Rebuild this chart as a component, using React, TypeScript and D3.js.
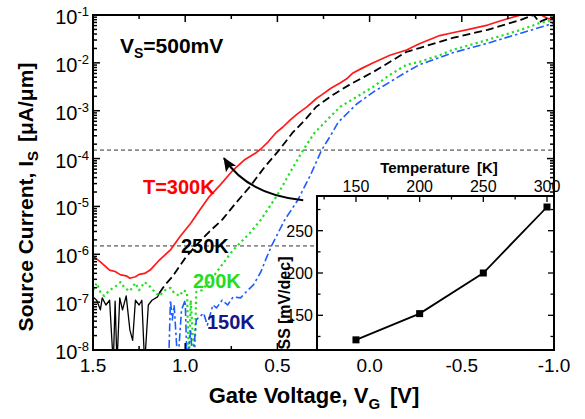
import * as d3 from "d3";

// Gate voltage [V] and log10 of source current [uA/um] for each temperature
const vg300 = [1.5, 1.46, 1.41, 1.38, 1.35, 1.32, 1.3, 1.27, 1.25, 1.22, 1.19, 1.14, 1.08, 1.03, 0.97, 0.92, 0.87, 0.81, 0.74, 0.68, 0.62, 0.59, 0.55, 0.51, 0.47, 0.43, 0.39, 0.34, 0.29, 0.26, 0.21, 0.16, 0.12, 0.09, 0.04, -0.02, -0.11, -0.2, -0.27, -0.38, -0.45, -0.55, -0.64, -0.72, -0.82, -0.9, -0.94, -0.97, -1.0];
const logI300 = [-6.04, -6.16, -6.33, -6.36, -6.43, -6.45, -6.5, -6.47, -6.42, -6.4, -6.33, -6.12, -5.91, -5.64, -5.35, -5.07, -4.8, -4.55, -4.24, -4.03, -3.89, -3.8, -3.65, -3.47, -3.34, -3.19, -3.06, -2.92, -2.75, -2.67, -2.53, -2.42, -2.32, -2.21, -2.11, -2.0, -1.84, -1.73, -1.6, -1.43, -1.37, -1.29, -1.21, -1.11, -1.0, -0.93, -1.02, -1.08, -1.06];

const vg250 = [1.5, 1.48, 1.46, 1.45, 1.43, 1.41, 1.39, 1.38, 1.37, 1.355, 1.34, 1.32, 1.3, 1.285, 1.27, 1.25, 1.235, 1.22, 1.2, 1.18, 1.15, 1.14, 1.11, 1.07, 1.0, 0.94, 0.87, 0.8, 0.73, 0.65, 0.57, 0.49, 0.42, 0.35, 0.29, 0.2, 0.11, -0.02, -0.2, -0.27, -0.38, -0.45, -0.64, -0.82, -0.89, -0.92, -0.96, -1.0];
const logI250 = [-6.89, -6.96, -7.16, -6.91, -7.06, -6.96, -8.3, -6.98, -8.3, -6.91, -7.16, -6.87, -7.58, -7.8, -6.96, -7.06, -6.96, -8.3, -7.06, -6.96, -6.89, -6.81, -6.64, -6.47, -6.08, -5.81, -5.53, -5.28, -4.95, -4.59, -4.18, -3.82, -3.47, -3.19, -2.92, -2.67, -2.46, -2.19, -1.77, -1.69, -1.56, -1.48, -1.31, -1.1, -1.0, -1.15, -1.08, -1.06];
// noise floor of the 250K trace ends here (drawn as a continuous line)
const noiseEdge250 = 1.14;

const vg200 = [1.5, 1.48, 1.46, 1.44, 1.41, 1.38, 1.35, 1.33, 1.3, 1.27, 1.25, 1.22, 1.19, 1.16, 1.14, 1.11, 1.08, 1.06, 1.03, 1.01, 0.99, 0.98, 0.97, 0.95, 0.94, 0.91, 0.87, 0.81, 0.74, 0.65, 0.59, 0.5, 0.43, 0.36, 0.3, 0.23, 0.16, 0.07, -0.02, -0.11, -0.2, -0.27, -0.38, -0.45, -0.64, -0.82, -0.92, -1.0];
const logI200 = [-6.75, -6.6, -6.79, -6.87, -6.75, -6.68, -6.58, -6.7, -6.77, -6.6, -6.75, -6.58, -6.68, -6.81, -6.87, -6.75, -6.7, -6.81, -6.87, -6.75, -6.79, -8.3, -6.96, -8.3, -6.79, -6.75, -6.58, -6.27, -5.91, -5.56, -5.28, -4.76, -4.28, -3.82, -3.47, -3.19, -2.92, -2.71, -2.5, -2.25, -2.04, -1.98, -1.84, -1.73, -1.52, -1.31, -1.17, -1.1];

const vg150 = [1.09, 1.08, 1.07, 1.06, 1.04, 1.02, 1.0, 0.99, 0.97, 0.96, 0.94, 0.9, 0.88, 0.85, 0.83, 0.8, 0.77, 0.74, 0.7, 0.66, 0.63, 0.59, 0.56, 0.53, 0.46, 0.39, 0.32, 0.26, 0.21, 0.17, 0.07, -0.02, -0.11, -0.2, -0.27, -0.45, -0.64, -0.82, -1.0];
const logI150 = [-8.3, -6.96, -7.37, -7.06, -8.3, -7.16, -6.96, -8.3, -7.58, -8.3, -7.37, -7.23, -7.48, -7.06, -7.12, -6.96, -7.06, -6.89, -6.91, -6.75, -6.64, -6.37, -6.08, -5.81, -5.28, -4.87, -4.34, -3.82, -3.51, -3.24, -2.86, -2.61, -2.4, -2.19, -2.04, -1.79, -1.59, -1.38, -1.17];

// inset: subthreshold swing vs temperature
const tempK = [150, 200, 250, 300];
const ssMvDec = [121, 152, 200, 278];

const xTickLabels = [1.5, 1.0, 0.5, 0.0, -0.5, -1.0];
const decades = [-8, -7, -6, -5, -4, -3, -2, -1];
const refCurrents = [1.5e-4, 1.5e-6];
const tempTicks = [150, 200, 250, 300];
const ssTicks = [150, 200, 250];

const FONT = "'Liberation Sans', Arial, Helvetica, sans-serif";

const W = 585;
const H = 419;
const plot = { left: 93, top: 15, right: 554, bottom: 350 };
const inset = { left: 317, top: 196, right: 554, bottom: 350 };

type Pt = [number, number];
const zip = (v: number[], l: number[]): Pt[] => v.map((d, i) => [d, l[i]] as Pt);

const pts250 = zip(vg250, logI250);

const series = [
  { pts: zip(vg300, logI300), color: "#ff1a1a", dash: "none", width: 1.7 },
  { pts: pts250.filter((p) => p[0] >= noiseEdge250), color: "#000000", dash: "none", width: 1.3 },
  { pts: pts250.filter((p) => p[0] <= noiseEdge250), color: "#000000", dash: "8,4", width: 1.8 },
  { pts: zip(vg200, logI200), color: "#22e022", dash: "2.2,3.2", width: 2.2 },
  { pts: zip(vg150, logI150), color: "#1f5cff", dash: "8,3,2.5,3", width: 1.6 },
];

const labels = [
  { text: "T=300K", v: 1.229, l: -4.74, color: "#ff0000" },
  { text: "250K", v: 1.023, l: -5.97, color: "#000000" },
  { text: "200K", v: 0.958, l: -6.7, color: "#22dd22" },
  { text: "150K", v: 0.882, l: -7.56, color: "#16168a" },
];

// arrow annotation (gate voltage, log10 current): start, control, end
const arrowPts: Pt[] = [
  [0.36, -4.87],
  [0.66, -4.76],
  [0.79, -3.99],
];

const fmtX = (v: number) => d3.format(".1f")(v).replace("\u2212", "-");

export default function App() {
  const x = d3.scaleLinear().domain([1.5, -1.0]).range([plot.left, plot.right]);
  const y = d3.scaleLog().domain([1e-8, 1e-1]).range([plot.bottom, plot.top]);
  const ix = d3.scaleLinear().domain([119.4, 305.5]).range([inset.left, inset.right]);
  const iy = d3.scaleLinear().domain([109, 291]).range([inset.bottom, inset.top]);

  const line = d3
    .line<Pt>()
    .x((d) => x(d[0]))
    .y((d) => y(Math.pow(10, d[1])));

  const xMinor = d3.range(0, 11).map((i) => 1.5 - 0.25 * i);
  const yMinor: number[] = [];
  decades.slice(0, -1).forEach((d) => {
    for (let k = 2; k <= 9; k++) yMinor.push(k * Math.pow(10, d));
  });

  const tMinor = d3.range(125, 301, 25);
  const sMinor = d3.range(125, 276, 25);

  const [a0, a1, a2] = arrowPts.map((p) => [x(p[0]), y(Math.pow(10, p[1]))]);
  const arrowPath = `M${a0[0]},${a0[1]} Q${a1[0]},${a1[1]} ${a2[0]},${a2[1]}`;

  const insetLine = d3
    .line<number>()
    .x((_, i) => ix(tempK[i]))
    .y((d) => iy(d));

  return (
    <svg
      width={W}
      height={H}
      style={{ position: "absolute", left: 0, top: 0, background: "#fff" }}
      fontFamily={FONT}
    >
      <defs>
        <clipPath id="plotClip">
          <rect x={plot.left} y={plot.top} width={plot.right - plot.left} height={plot.bottom - plot.top} />
        </clipPath>
        <marker id="arrowHead" markerUnits="userSpaceOnUse" markerWidth={16} markerHeight={14} refX={13} refY={6} orient="auto">
          <path d="M0,0 L14,6 L0,12 L3,6 Z" fill="#000" />
        </marker>
      </defs>

      {/* reference lines */}
      {refCurrents.map((c) => (
        <line key={c} x1={plot.left} x2={plot.right} y1={y(c)} y2={y(c)} stroke="#8a8a8a" strokeWidth={1.6} strokeDasharray="4,3" />
      ))}

      {/* curves */}
      <g clipPath="url(#plotClip)">
        {series.map((s, i) => (
          <path
            key={i}
            d={line(s.pts) ?? ""}
            fill="none"
            stroke={s.color}
            strokeWidth={s.width}
            strokeDasharray={s.dash}
            strokeLinejoin="round"
          />
        ))}
      </g>

      {/* main axis ticks */}
      <g stroke="#000" strokeWidth={1.5}>
        {xMinor.map((v, i) => {
          const len = i % 2 === 0 ? 7 : 4;
          return (
            <g key={"xt" + i}>
              <line x1={x(v)} x2={x(v)} y1={plot.bottom} y2={plot.bottom - len} />
              <line x1={x(v)} x2={x(v)} y1={plot.top} y2={plot.top + len} />
            </g>
          );
        })}
        {decades.map((d) => (
          <g key={"yd" + d}>
            <line x1={plot.left} x2={plot.left + 7} y1={y(Math.pow(10, d))} y2={y(Math.pow(10, d))} />
            <line x1={plot.right} x2={plot.right - 7} y1={y(Math.pow(10, d))} y2={y(Math.pow(10, d))} />
          </g>
        ))}
        {yMinor.map((m, i) => (
          <g key={"ym" + i}>
            <line x1={plot.left} x2={plot.left + 4} y1={y(m)} y2={y(m)} />
            <line x1={plot.right} x2={plot.right - 4} y1={y(m)} y2={y(m)} />
          </g>
        ))}
      </g>

      {/* curve labels */}
      {labels.map((lb) => (
        <text key={lb.text} x={x(lb.v)} y={y(Math.pow(10, lb.l))} fill={lb.color} fontSize={20} fontWeight="bold">
          {lb.text}
        </text>
      ))}
      <text x={x(1.354)} y={y(Math.pow(10, -1.79))} fontSize={21} fontWeight="bold">
        V<tspan fontSize={14} dy={5}>S</tspan>
        <tspan dy={-5}>=500mV</tspan>
      </text>

      {/* arrow */}
      <path d={arrowPath} fill="none" stroke="#000" strokeWidth={2} markerEnd="url(#arrowHead)" />

      {/* inset */}
      <rect x={inset.left} y={inset.top} width={inset.right - inset.left} height={inset.bottom - inset.top} fill="#fff" />
      <g stroke="#000" strokeWidth={1.3}>
        {tMinor.map((t) => (
          <line key={"it" + t} x1={ix(t)} x2={ix(t)} y1={inset.top} y2={inset.top + (t % 50 === 0 ? 6 : 3.5)} />
        ))}
        {sMinor.map((s) => (
          <g key={"is" + s}>
            <line x1={inset.left} x2={inset.left + (s % 50 === 0 ? 6 : 3.5)} y1={iy(s)} y2={iy(s)} />
            <line x1={inset.right} x2={inset.right - (s % 50 === 0 ? 6 : 3.5)} y1={iy(s)} y2={iy(s)} />
          </g>
        ))}
      </g>
      <path d={insetLine(ssMvDec) ?? ""} fill="none" stroke="#000" strokeWidth={1.8} />
      {ssMvDec.map((s, i) => (
        <rect key={"pt" + i} x={ix(tempK[i]) - 3.5} y={iy(s) - 3.5} width={7} height={7} fill="#000" />
      ))}
      <rect x={inset.left} y={inset.top} width={inset.right - inset.left} height={inset.bottom - inset.top} fill="none" stroke="#000" strokeWidth={2} />

      {/* inset labels */}
      {tempTicks.map((t) => (
        <text key={"tl" + t} x={ix(t)} y={inset.top - 4} textAnchor="middle" fontSize={16}>
          {t}
        </text>
      ))}
      <text x={439} y={inset.top - 23} textAnchor="middle" fontSize={15} fontWeight="bold">
        Temperature<tspan dx={7}>[K]</tspan>
      </text>
      {ssTicks.map((s) => (
        <text key={"sl" + s} x={inset.left - 4} y={iy(s) + 6} textAnchor="end" fontSize={16}>
          {s}
        </text>
      ))}
      <text transform={`translate(290,${303}) rotate(-90)`} textAnchor="middle" fontSize={16} fontWeight="bold">
        SS<tspan dx={4}>[mV/dec]</tspan>
      </text>

      {/* main frame */}
      <rect x={plot.left} y={plot.top} width={plot.right - plot.left} height={plot.bottom - plot.top} fill="none" stroke="#000" strokeWidth={2} />

      {/* main tick labels */}
      {xTickLabels.map((v) => (
        <text key={"xl" + v} x={x(v)} y={plot.bottom + 22} textAnchor="middle" fontSize={19}>
          {fmtX(v)}
        </text>
      ))}
      {decades.map((d) => (
        <text key={"yl" + d} x={plot.left - 4} y={y(Math.pow(10, d)) + 9} textAnchor="end" fontSize={20}>
          10<tspan fontSize={13} dy={-8}>{d}</tspan>
        </text>
      ))}

      {/* axis titles */}
      <text x={314} y={403} textAnchor="middle" fontSize={22} fontWeight="bold">
        Gate Voltage, V<tspan fontSize={15} dy={6}>G</tspan>
        <tspan dy={-6} dx={10}>[V]</tspan>
      </text>
      <text transform="translate(33,197) rotate(-90)" textAnchor="middle" fontSize={21} fontWeight="bold">
        Source Current, I<tspan fontSize={15} dy={5}>S</tspan>
        <tspan dy={-5} dx={9}>[μA/μm]</tspan>
      </text>
    </svg>
  );
}
